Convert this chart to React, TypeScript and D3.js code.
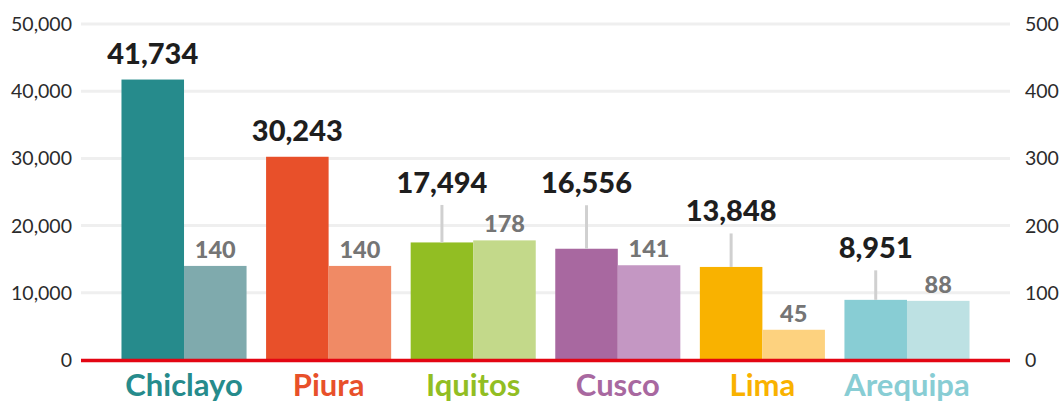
import React from "react";
import * as d3 from "d3";

const categories = ["Chiclayo", "Piura", "Iquitos", "Cusco", "Lima", "Arequipa"];
const primaryValues = [41734, 30243, 17494, 16556, 13848, 8951];
const secondaryValues = [140, 140, 178, 141, 45, 88];
const primaryColors = ["#268b8c", "#e8502a", "#92be23", "#a868a0", "#f9b200", "#88cdd4"];
const secondaryColors = ["#7faaad", "#f08a65", "#c3d98a", "#c497c3", "#fdd27f", "#bde1e3"];
const leftTicks = [0, 10000, 20000, 30000, 40000, 50000];
const rightTicks = [0, 100, 200, 300, 400, 500];

// layout: how far (px) each primary label is raised above its default spot
const LABEL_RAISE = [0, 0, 34, 40, 30, 26];

const W = 1062;
const H = 406;
const X0 = 81;
const X1 = 1010;
const Y0 = 360;
const Y1 = 24;
const FONT = "Lato, 'Noto Sans', sans-serif";

export default function App() {
  const x = d3
    .scaleBand<string>()
    .domain(categories)
    .range([X0, X1])
    .paddingInner(0.135)
    .paddingOuter(0.28);
  const sub = d3.scaleBand<string>().domain(["p", "s"]).range([0, x.bandwidth()]);
  const yL = d3.scaleLinear().domain([0, 50000]).range([Y0, Y1]);
  const yR = d3.scaleLinear().domain([0, 500]).range([Y0, Y1]);
  const fmt = d3.format(",");

  return (
    <div style={{ position: "fixed", left: 0, top: 0 }}>
      <svg width={W} height={H} style={{ display: "block", background: "#fff" }}>
        {leftTicks.map((t) => (
          <g key={"g" + t}>
            {t > 0 && (
              <line x1={X0} x2={X1} y1={yL(t)} y2={yL(t)} stroke="#efefef" strokeWidth={3} />
            )}
            <text
              x={72}
              y={yL(t)}
              dy="0.36em"
              textAnchor="end"
              fontFamily={FONT}
              fontSize={19.5}
              fill="#2b2b2b"
            >
              {fmt(t)}
            </text>
          </g>
        ))}
        {rightTicks.map((t) => (
          <text
            key={"r" + t}
            x={1025}
            y={yR(t)}
            dy="0.36em"
            textAnchor="start"
            fontFamily={FONT}
            fontSize={19.5}
            fill="#2b2b2b"
          >
            {t}
          </text>
        ))}
        {categories.map((c, i) => {
          const bx = x(c)!;
          const pw = sub.bandwidth();
          const px = bx + sub("p")!;
          const sx = bx + sub("s")!;
          const pTop = yL(primaryValues[i]);
          const sTop = yR(secondaryValues[i]);
          const labelY = pTop - 15.5 - LABEL_RAISE[i];
          return (
            <g key={c}>
              <rect x={px} y={pTop} width={pw} height={Y0 - pTop} fill={primaryColors[i]} />
              <rect x={sx} y={sTop} width={pw} height={Y0 - sTop} fill={secondaryColors[i]} />
              {LABEL_RAISE[i] > 0 && (
                <line
                  x1={px + pw / 2}
                  x2={px + pw / 2}
                  y1={labelY + 12}
                  y2={pTop}
                  stroke="#d0d0d0"
                  strokeWidth={3}
                />
              )}
              <text
                x={px + pw / 2}
                y={labelY}
                textAnchor="middle"
                fontFamily={FONT}
                fontWeight={900}
                fontSize={29}
                fill="#1e1e1e"
              >
                {fmt(primaryValues[i])}
              </text>
              <text
                x={sx + pw / 2}
                y={sTop - 8}
                textAnchor="middle"
                fontFamily={FONT}
                fontWeight={900}
                fontSize={23.5}
                fill="#757575"
              >
                {secondaryValues[i]}
              </text>
              <text
                x={bx + x.bandwidth() / 2}
                y={396}
                textAnchor="middle"
                fontFamily={FONT}
                fontWeight={700}
                fontSize={31}
                fill={primaryColors[i]}
              >
                {c}
              </text>
            </g>
          );
        })}
        <line x1={X0} x2={X1} y1={Y0 + 0.5} y2={Y0 + 0.5} stroke="#e30613" strokeWidth={3.5} />
      </svg>
    </div>
  );
}
